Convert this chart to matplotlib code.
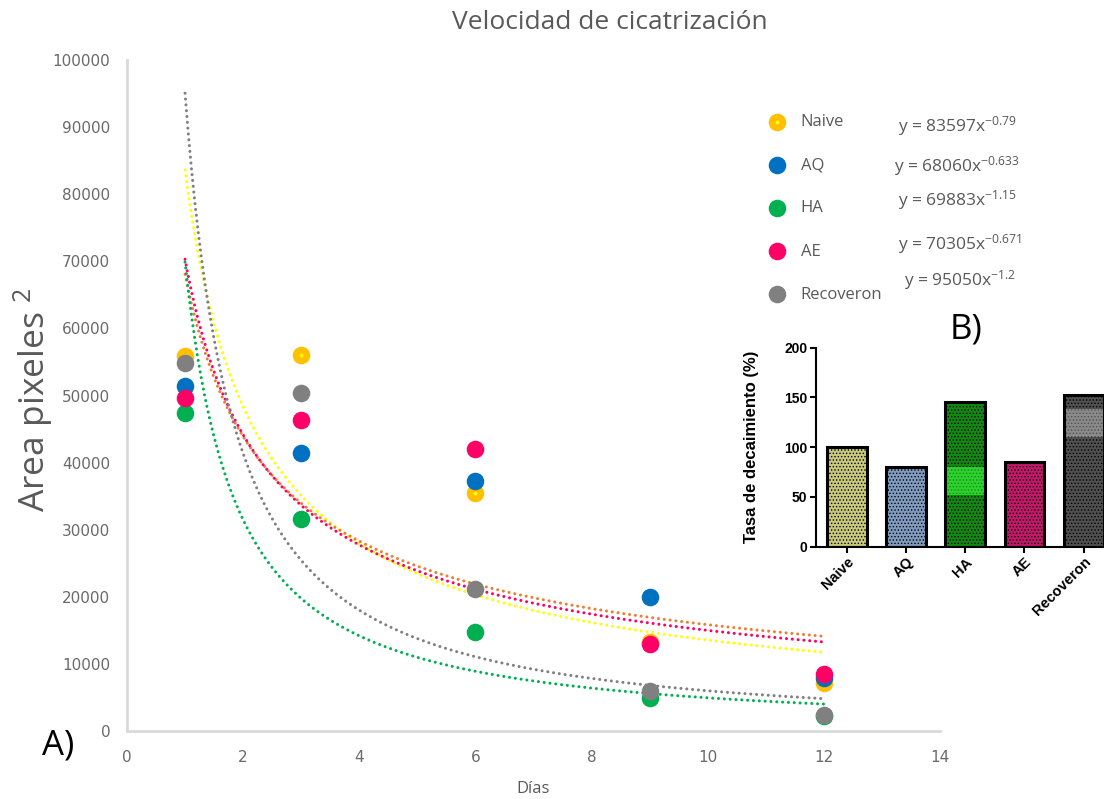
import numpy as np
import matplotlib.pyplot as plt
from matplotlib.legend_handler import HandlerTuple

plt.rcParams['font.family'] = ['Open Sans', 'DejaVu Sans']
plt.rcParams['mathtext.fontset'] = 'custom'
plt.rcParams['mathtext.rm'] = 'Open Sans'
plt.rcParams['mathtext.default'] = 'regular'
plt.rcParams['hatch.linewidth'] = 0.6

# Data
dias = [1, 3, 6, 9, 12]
grupos = ['Naive', 'AQ', 'HA', 'AE', 'Recoveron']
naive = [55900, 56000, 35400, 13300, 7100]
aq = [51400, 41500, 37300, 19900, 7850]
ha = [47350, 31550, 14750, 4870, 2300]
ae = [49700, 46350, 41960, 12960, 8500]
recoveron = [54800, 50330, 21120, 6000, 2380]

# power trendlines y = a * x^b (as printed on the chart)
coef_a = [83597, 68060, 69883, 70305, 95050]
coef_b = ['-0.79', '-0.633', '-1.15', '-0.671', '-1.2']

# inset: decay rate (%)
tasa = [100, 80, 145, 85, 152]
ha_banda = [52, 80]
rec_banda = [110, 138]

colores_punto = ['#FFC000', '#0070C0', '#00B050', '#FF0066', '#808080']
colores_linea = ['#FFFF00', '#ED7D31', '#00B050', '#FF0066', '#808080']
series = [naive, aq, ha, ae, recoveron]

gris = '#595959'
fig = plt.figure(figsize=(11.04, 7.99), dpi=100)
ax = fig.add_axes([0.115, 0.0851, 0.7364, 0.8398])

x_fit = np.linspace(1, 12, 200)
for a, b, c in zip(coef_a, coef_b, colores_linea):
    ax.plot(x_fit, a * x_fit ** float(b), color=c, lw=2.2, linestyle=(0, (0.01, 1.9)),
            dash_capstyle='round', zorder=2)

handles = []
for i, (vals, c) in enumerate(zip(series, colores_punto)):
    h = ax.scatter(dias, vals, s=160, color=c, zorder=3, linewidths=0)
    if i == 0:
        h2 = ax.scatter(dias, vals, s=8, color='#FFFF00', zorder=3, linewidths=0)
        handles.append((h, h2))
    else:
        handles.append(h)

ax.set_xlim(0, 14)
ax.set_ylim(0, 100000)
ax.set_xticks(range(0, 15, 2))
ax.set_yticks(range(0, 100001, 10000))
ax.tick_params(length=0, labelsize=11, labelcolor='#6a6a6a')
ax.tick_params(axis='y', pad=12)
ax.tick_params(axis='x', pad=14)
for lab in ax.get_xticklabels() + ax.get_yticklabels():
    lab.set_family('DejaVu Sans')
for s in ['top', 'right']:
    ax.spines[s].set_visible(False)
for s in ['left', 'bottom']:
    ax.spines[s].set_color('#D9D9D9')
    ax.spines[s].set_linewidth(2)

ax.set_xlabel('Días', fontsize=12, color=gris)
ax.xaxis.set_label_coords(0.5, -0.075)
ax.set_ylabel('Area pixeles $^{2}$', fontsize=25.5, color=gris)
ax.yaxis.label.set_va('center')
ax.yaxis.set_label_coords(-0.1156, 0.493)
fig.text(0.552, 0.972, 'Velocidad de cicatrización', fontsize=19, color=gris,
         ha='center', va='center')

leg = ax.legend(handles, grupos, loc='upper left', bbox_to_anchor=(0.675, 0.876),
                bbox_transform=fig.transFigure, frameon=False, fontsize=12,
                labelspacing=1.63, handletextpad=0.42, labelcolor=gris,
                handler_map={tuple: HandlerTuple(ndivide=1, pad=0)})

eq_pos = [(0.813, 0.842), (0.810, 0.792), (0.813, 0.749), (0.813, 0.695), (0.819, 0.649)]
for a, b, (px, py) in zip(coef_a, coef_b, eq_pos):
    fig.text(px, py, f'y = {a}x$^{{{b}}}$', fontsize=12.5, color=gris, va='center')

fig.text(0.038, 0.067, 'A)', fontsize=25, color='black', va='center')
fig.text(0.860, 0.587, 'B)', fontsize=25, color='black', va='center')

# Inset bar chart
axb = fig.add_axes([0.739, 0.3158, 0.2609, 0.249])
xb = np.arange(len(grupos))
colores_barra = ['#C9C97E', '#7F9CC0', '#118A11', '#C4186A', '#505050']
axb.bar(xb, tasa, width=0.67, color=colores_barra, edgecolor='black', lw=0,
        hatch='.....', zorder=2)
axb.bar(xb[2], ha_banda[1] - ha_banda[0], bottom=ha_banda[0], width=0.67,
        color='#2ED22E', lw=0, hatch='.....', edgecolor='#118A11', zorder=2)
axb.bar(xb[4], rec_banda[1] - rec_banda[0], bottom=rec_banda[0], width=0.67,
        color='#8A8A8A', lw=0, hatch='.....', edgecolor='#505050', zorder=2)
axb.bar(xb, tasa, width=0.67, fill=False, edgecolor='black', lw=2.2, zorder=3)
axb.set_xlim(-0.52, 4.34)
axb.set_ylim(0, 200)
axb.set_yticks([0, 50, 100, 150, 200])
axb.set_xticks(xb)
axb.set_xticklabels(grupos, rotation=45, ha='right', rotation_mode='anchor',
                    fontsize=10.5, fontweight='bold', family='Liberation Sans')
for lab in axb.get_yticklabels():
    lab.set_family('Liberation Sans')
    lab.set_fontweight('bold')
    lab.set_fontsize(10)
axb.tick_params(width=1.5, length=4, color='black', pad=2)
axb.set_ylabel('Tasa de decaimiento (%)', fontsize=12, fontweight='bold',
               family='Liberation Sans', labelpad=18)
for s in ['top', 'right']:
    axb.spines[s].set_visible(False)
for s in ['left', 'bottom']:
    axb.spines[s].set_linewidth(1.5)

fig.savefig('out.png', dpi=100)
